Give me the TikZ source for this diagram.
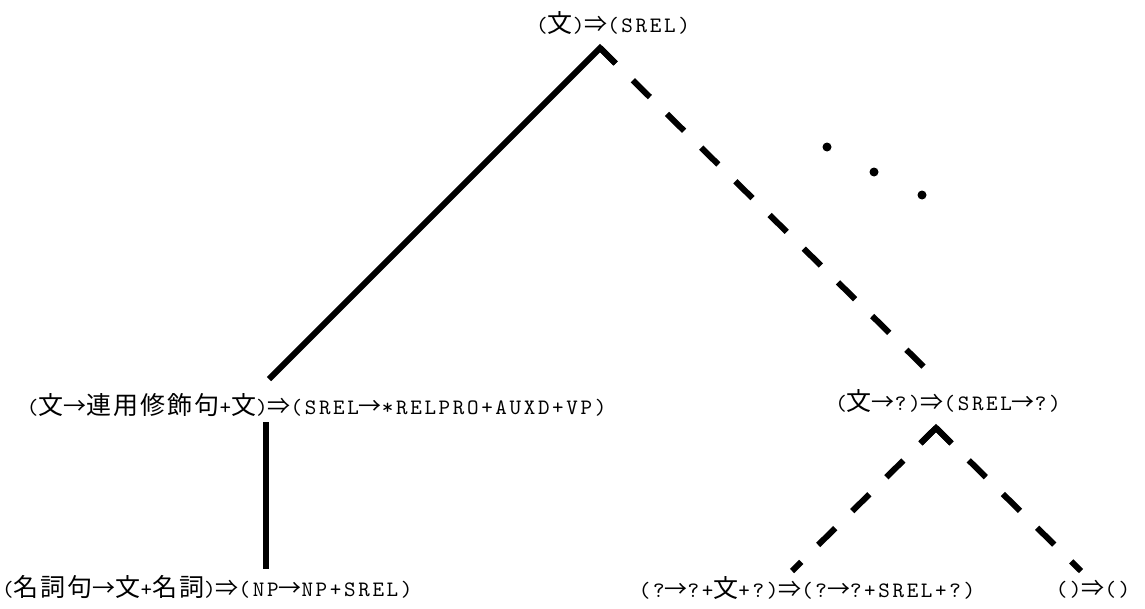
\documentclass[tikz,border=0pt]{standalone}
\usepackage{fontspec}
\usetikzlibrary{calc}
\newfontfamily\cjkf[LetterSpace=8]{Noto Sans CJK JP}
\newfontfamily\arrf[LetterSpace=4]{Noto Sans CJK JP}
\newfontfamily\monof[Extension=.otf,LetterSpace=12]{lmmono10-regular}
\newcommand\J[1]{{\cjkf\fontsize{25pt}{25pt}\selectfont #1}}
\newcommand\R[1]{{\arrf\fontsize{23pt}{23pt}\selectfont #1}}
\newcommand\A[1]{{\monof\fontsize{22pt}{22pt}\selectfont #1}}
\tikzset{
  lab/.style={anchor=base west, inner sep=0pt, outer sep=0pt},
  labc/.style={anchor=base, inner sep=0pt, outer sep=0pt},
  solidline/.style={line width=6pt, line cap=butt, line join=miter},
  dashline/.style={line width=6pt, line cap=butt, dash pattern=on 24pt off 24pt, dash phase=2pt},
  dotmark/.style={circle, fill=black, inner sep=0pt, minimum size=9pt}
}
\begin{document}
\begin{tikzpicture}[x=1pt,y=-1pt]
\useasboundingbox (0,0) rectangle (1145,608);
% labels
\node[labc] (top) at (613,32) {\A{(}\J{文}\A{)}\R{⇒}\A{(SREL)}};
\node[lab] (ml) at (27,414) {\A{(}\J{文}\R{→}\J{連用修飾句}\A{+}\J{文}\A{)}\R{⇒}\A{(SREL}\R{→}\A{*RELPRO+AUXD+VP)}};
\node[labc] (mr) at (948,410) {\A{(}\J{文}\R{→}\A{?)}\R{⇒}\A{(SREL}\R{→}\A{?)}};
\node[lab] (bl) at (2,596) {\A{(}\J{名詞句}\R{→}\J{文}\A{+}\J{名詞}\A{)}\R{⇒}\A{(NP}\R{→}\A{NP+SREL)}};
\node[labc] (bm) at (807,597) {\A{(?}\R{→}\A{?+}\J{文}\A{+?)}\R{⇒}\A{(?}\R{→}\A{?+SREL+?)}};
\node[labc] (br) at (1093,596) {\A{()}\R{⇒}\A{()}};
% connector points
\coordinate (apex) at (600,48);
\coordinate (sL) at (269,379);
\coordinate (dR) at (926,369);
\coordinate (vT) at (266,422);
\coordinate (vB) at (266,569);
\coordinate (apex2) at (936,428);
\coordinate (dL2) at (792,571);
\coordinate (dR2) at (1081,571);
% top tree
\draw[solidline] (sL) -- (apex) -- ($(apex)!22pt!(dR)$);
\draw[dashline] (apex) -- (dR);
% vertical
\draw[solidline] (vT) -- (vB);
% lower right tree
\draw[solidline] ($(apex2)!21pt!(dL2)$) -- (apex2) -- ($(apex2)!21pt!(dR2)$);
\draw[dashline] (apex2) -- (dL2);
\draw[dashline] (apex2) -- (dR2);
% ellipsis dots
\node[dotmark] (d1) at (827,147) {};
\node[dotmark] (d2) at (874,172) {};
\node[dotmark] (d3) at (922,195) {};
\end{tikzpicture}
\end{document}
